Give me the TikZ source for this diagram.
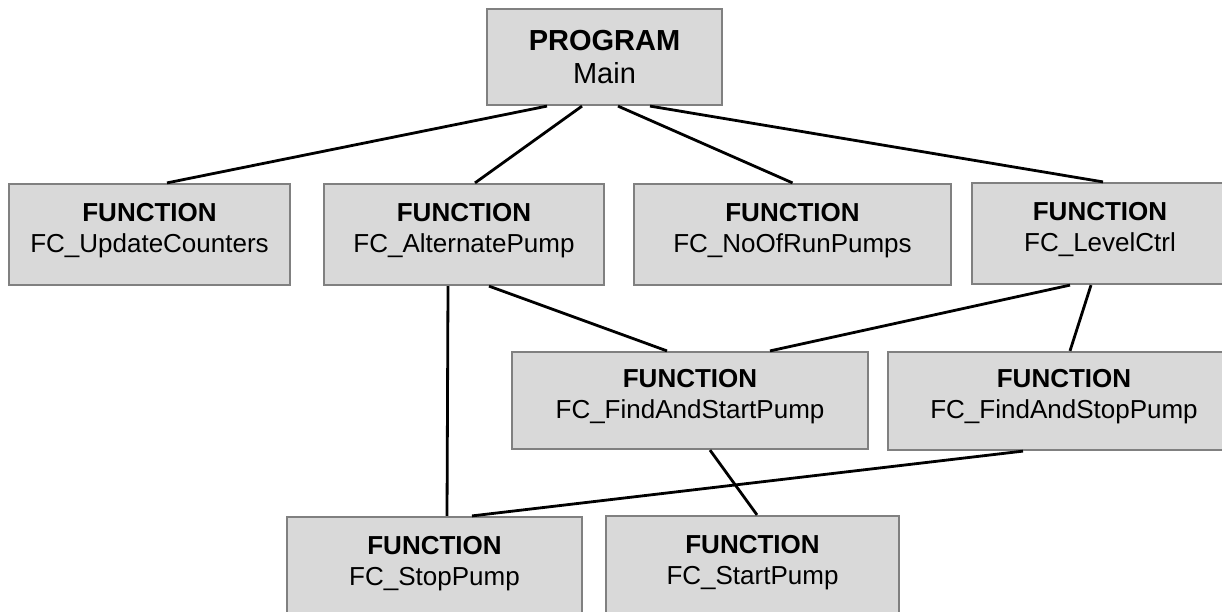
\documentclass[tikz,border=0pt]{standalone}
\usepackage{fontspec}
\setmainfont{Liberation Sans}
\definecolor{boxfill}{HTML}{D9D9D9}
\definecolor{boxedge}{HTML}{808080}
\tikzset{
  unit/.style={draw=boxedge, line width=2.2pt, fill=boxfill, inner sep=0pt,
    align=center, text depth=14pt, font=\fontsize{26}{31}\selectfont},
  prog/.style={unit, text depth=0pt, font=\fontsize{29}{33}\selectfont},
  call/.style={draw=black, line width=2.8pt}
}
\newcommand{\fnlabel}[1]{{\bfseries FUNCTION}\\#1}
\begin{document}
\begin{tikzpicture}[x=1pt, y=-1pt]
  \useasboundingbox (0,0) rectangle (1222,611);
  \clip (0,0) rectangle (1222,611);

  % program and function blocks
  \node[prog, minimum width=235pt, minimum height=96pt] (main) at (604.5,57)
    {{\bfseries PROGRAM}\\Main};
  \node[unit, minimum width=281pt, minimum height=101pt] (upd) at (149.5,234.5)
    {\fnlabel{FC\_UpdateCounters}};
  \node[unit, minimum width=280pt, minimum height=101pt] (alt) at (464,234.5)
    {\fnlabel{FC\_AlternatePump}};
  \node[unit, minimum width=317pt, minimum height=101pt] (noof) at (792.5,234.5)
    {\fnlabel{FC\_NoOfRunPumps}};
  \node[unit, minimum width=256pt, minimum height=101pt] (lvl) at (1100,233.5)
    {\fnlabel{FC\_LevelCtrl}};
  \node[unit, minimum width=356pt, minimum height=97pt] (fas) at (690,400.5)
    {\fnlabel{FC\_FindAndStartPump}};
  \node[unit, minimum width=352pt, minimum height=98pt] (fso) at (1064,401)
    {\fnlabel{FC\_FindAndStopPump}};
  \node[unit, minimum width=295pt, minimum height=101pt] (stop) at (434.5,567.5)
    {\fnlabel{FC\_StopPump}};
  \node[unit, minimum width=293pt, minimum height=101pt] (start) at (752.5,566.5)
    {\fnlabel{FC\_StartPump}};

  % call connections
  \draw[call] ([xshift=-57.5pt]main.south) -- ([xshift=17.5pt]upd.north);
  \draw[call] ([xshift=-22.5pt]main.south) -- ([xshift=11pt]alt.north);
  \draw[call] ([xshift=13.5pt]main.south) -- (noof.north);
  \draw[call] ([xshift=45.5pt]main.south) -- ([xshift=3pt]lvl.north);
  \draw[call] ([xshift=25pt]alt.south) -- ([xshift=-23pt]fas.north);
  \draw[call] ([xshift=-16pt]alt.south) -- ([xshift=12.5pt]stop.north);
  \draw[call] ([xshift=-30pt]lvl.south) -- ([xshift=80pt]fas.north);
  \draw[call] ([xshift=-9pt]lvl.south) -- ([xshift=6pt]fso.north);
  \draw[call] ([xshift=-41pt]fso.south) -- ([xshift=37.5pt]stop.north);
  \draw[call] ([xshift=20pt]fas.south) -- ([xshift=4.5pt]start.north);
\end{tikzpicture}
\end{document}
